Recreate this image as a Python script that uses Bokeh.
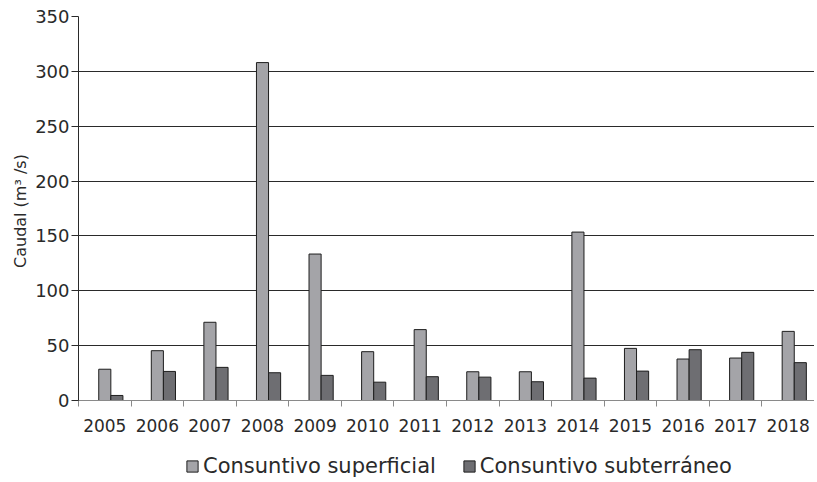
from bokeh.plotting import figure
from bokeh.models import Range1d, FixedTicker, Legend, LegendItem, ColumnDataSource
from bokeh.layouts import column
from bokeh.embed import file_html
from bokeh.resources import INLINE

years = ["2005", "2006", "2007", "2008", "2009", "2010", "2011",
         "2012", "2013", "2014", "2015", "2016", "2017", "2018"]
superficial = [28.5, 45.4, 71.3, 308.0, 133.5, 44.5, 64.6,
               26.2, 26.2, 153.5, 47.5, 37.8, 38.7, 63.0]
subterraneo = [4.6, 26.5, 30.2, 25.3, 22.9, 16.7, 21.7,
               21.3, 17.1, 20.4, 26.8, 46.3, 43.9, 34.5]
y_ticks = [0, 50, 100, 150, 200, 250, 300, 350]
series_names = ["Consuntivo superficial", "Consuntivo subterr\u00e1neo"]

FONT = "DejaVu Sans"
BAR_W = 0.23
LIGHT = "#a4a4a8"
DARK = "#6e6e72"
EDGE = "#1e1e1e"
TXT = "#2a2a2a"
idx = list(range(len(years)))

src = ColumnDataSource(dict(
    x1=[i + 0.5 for i in idx],
    x2=[i + 0.5 + BAR_W for i in idx],
    sup=superficial,
    sub=subterraneo,
))

p = figure(frame_width=736, frame_height=384, output_backend="svg", toolbar_location=None,
           x_range=Range1d(0, len(years)), y_range=Range1d(0, 350),
           min_border_left=78, min_border_right=0, min_border_top=16,
           min_border_bottom=0)
p.outline_line_color = None
p.background_fill_color = "white"
p.border_fill_color = "white"

p.vbar(x="x1", top="sup", width=BAR_W, source=src,
       fill_color=LIGHT, line_color=EDGE, line_width=1)
p.vbar(x="x2", top="sub", width=BAR_W, source=src,
       fill_color=DARK, line_color=EDGE, line_width=1)

# x axis: labels at centers, tick marks at boundaries
p.xaxis.ticker = FixedTicker(ticks=[i + 0.5 for i in idx],
                             minor_ticks=list(range(len(years) + 1)))
p.xaxis.major_label_overrides = {i + 0.5: y for i, y in zip(idx, years)}
p.xaxis.major_tick_line_color = None
p.xaxis.minor_tick_out = 6
p.xaxis.minor_tick_in = 0
p.xaxis.minor_tick_line_color = "#8a8a8a"
p.xaxis.axis_line_color = "#8a8a8a"
p.xaxis.major_label_text_font = FONT
p.xaxis.major_label_text_font_size = "17px"
p.xaxis.major_label_text_color = TXT
p.xaxis.major_label_standoff = 12
p.xgrid.grid_line_color = None

p.yaxis.ticker = FixedTicker(ticks=y_ticks)
p.yaxis.minor_tick_line_color = None
p.yaxis.major_tick_out = 7
p.yaxis.major_tick_in = 0
p.yaxis.major_tick_line_color = TXT
p.yaxis.axis_line_color = TXT
p.yaxis.major_label_text_font = FONT
p.yaxis.major_label_text_font_size = "18px"
p.yaxis.major_label_text_color = TXT
p.yaxis.major_label_standoff = 2
p.yaxis.axis_label = "Caudal  (m\u00b3 /s)"
p.yaxis.axis_label_text_font = FONT
p.yaxis.axis_label_text_font_style = "normal"
p.yaxis.axis_label_text_font_size = "16px"
p.yaxis.axis_label_text_color = TXT
p.yaxis.axis_label_standoff = 2
p.ygrid.grid_line_color = TXT
p.ygrid.grid_line_width = 1

# legend in its own strip below the chart (proxy glyphs sit outside the visible range)
lg = figure(width=814, height=46, output_backend="svg", toolbar_location=None,
            x_range=Range1d(0, 1), y_range=Range1d(0, 1),
            min_border_left=0, min_border_right=0, min_border_top=0, min_border_bottom=0)
lg.outline_line_color = None
lg.axis.visible = False
lg.grid.grid_line_color = None
proxy = ColumnDataSource(dict(x=[-5], top=[-5]))
k1 = lg.vbar(x="x", top="top", width=0.1, source=proxy,
             fill_color=LIGHT, line_color=EDGE, line_width=1)
k2 = lg.vbar(x="x", top="top", width=0.1, source=proxy,
             fill_color=DARK, line_color=EDGE, line_width=1)
legend = Legend(items=[LegendItem(label=series_names[0], renderers=[k1]),
                       LegendItem(label=series_names[1], renderers=[k2])],
                orientation="horizontal", location=(107, 2),
                label_text_font=FONT, label_text_font_size="21px",
                label_text_color=TXT, glyph_width=14, glyph_height=14,
                label_standoff=4, spacing=26, border_line_color=None,
                background_fill_alpha=0, padding=2, margin=0)
lg.add_layout(legend, "center")

layout = column(p, lg, spacing=0)
open("out.html", "w").write(file_html(layout, INLINE))
